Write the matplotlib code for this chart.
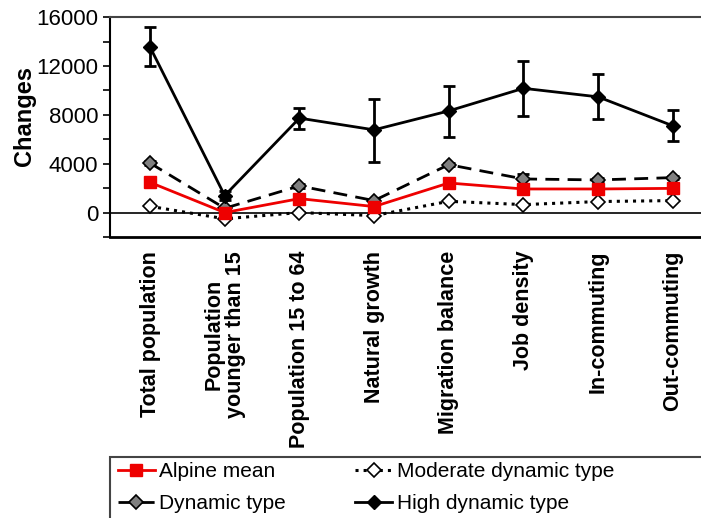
import numpy as np
import matplotlib
matplotlib.use("Agg")
import matplotlib.pyplot as plt
from matplotlib.ticker import MultipleLocator
from matplotlib.patches import Rectangle

plt.rcParams['font.family'] = ['Liberation Sans', 'DejaVu Sans']

categories = ["Total population", "Population\nyounger than 15", "Population 15 to 64",
              "Natural growth", "Migration balance", "Job density",
              "In-commuting", "Out-commuting"]

alpine_mean = [2470, 0, 1140, 490, 2420, 1930, 1930, 1980]
moderate = [510, -510, 0, -250, 920, 650, 900, 980]
dynamic = [4050, 350, 2180, 980, 3920, 2750, 2670, 2860]
dynamic_err = [150, 100, 150, 100, 150, 430, 150, 150]
high = [13550, 1390, 7730, 6770, 8320, 10170, 9470, 7100]
high_err_low = [1550, 400, 900, 2610, 2120, 2280, 1800, 1220]
high_err_high = [1650, 400, 860, 2560, 2070, 2260, 1850, 1300]

x = np.arange(len(categories))

fig = plt.figure(figsize=(7.01, 5.18), dpi=100)
ax = fig.add_axes([0.157, 0.5425, 0.843, 0.4245])

ax.axhline(0, color='black', lw=1.2, zorder=1)

# error bars first, lines and markers on top
ax.errorbar(x, dynamic, yerr=dynamic_err, fmt='none', ecolor='black',
            capsize=4, capthick=2, elinewidth=2, zorder=2)
ax.errorbar(x, high, yerr=[high_err_low, high_err_high], fmt='none', ecolor='black',
            capsize=4, capthick=2, elinewidth=2, zorder=2)

h_mod, = ax.plot(x, moderate, color='black', ls=':', lw=2.2, marker='D', ms=7,
                 mfc='white', mec='black', mew=1.2, zorder=3)
h_dyn, = ax.plot(x, dynamic, color='black', ls=(0, (5, 3)), lw=2, marker='D', ms=7,
                 mfc='#808080', mec='black', mew=1.2, zorder=3)
h_alp, = ax.plot(x, alpine_mean, color='#ee0000', ls='-', lw=2, marker='s', ms=9,
                 mfc='#ee0000', mec='#ee0000', zorder=4)
h_high, = ax.plot(x, high, color='black', ls='-', lw=2, marker='D', ms=7,
                  mfc='black', mec='black', zorder=5)

ax.set_xlim(-0.535, 7.377)
ax.set_ylim(-2000, 16000)
ax.yaxis.set_major_locator(MultipleLocator(4000))
ax.yaxis.set_minor_locator(MultipleLocator(2000))
ax.tick_params(axis='y', which='both', length=5, width=1.2, labelsize=16, direction='out')
ax.set_xticks(x)
ax.set_xticklabels(categories, rotation=90, fontsize=15.5, fontweight='bold',
                   va='top', ha='center', linespacing=1.0)
ax.tick_params(axis='x', length=0, pad=10)
ax.set_ylabel("Changes", fontsize=17, fontweight='bold')
ax.yaxis.set_label_coords(-0.125, 0.55)

ax.spines['right'].set_visible(False)
ax.spines['top'].set_color('#444444')
ax.spines['top'].set_linewidth(1.5)
ax.spines['left'].set_linewidth(1.5)
ax.spines['bottom'].set_linewidth(2)

# legend box runs off the right and bottom edges
fig.patches.append(Rectangle((0.157, -0.05), 0.9, 0.168, transform=fig.transFigure,
                             fill=False, edgecolor='#444444', lw=1.5))
fig.legend([h_alp, h_dyn, h_mod, h_high],
           ['Alpine mean', 'Dynamic type', 'Moderate dynamic type', 'High dynamic type'],
           loc='upper left', bbox_to_anchor=(0.165, 0.112), ncol=2,
           fontsize=15, handlelength=1.8, handletextpad=0.2, columnspacing=3.3,
           labelspacing=0.62, borderaxespad=0, frameon=False, borderpad=0.1)

fig.savefig("out.png", dpi=100)
